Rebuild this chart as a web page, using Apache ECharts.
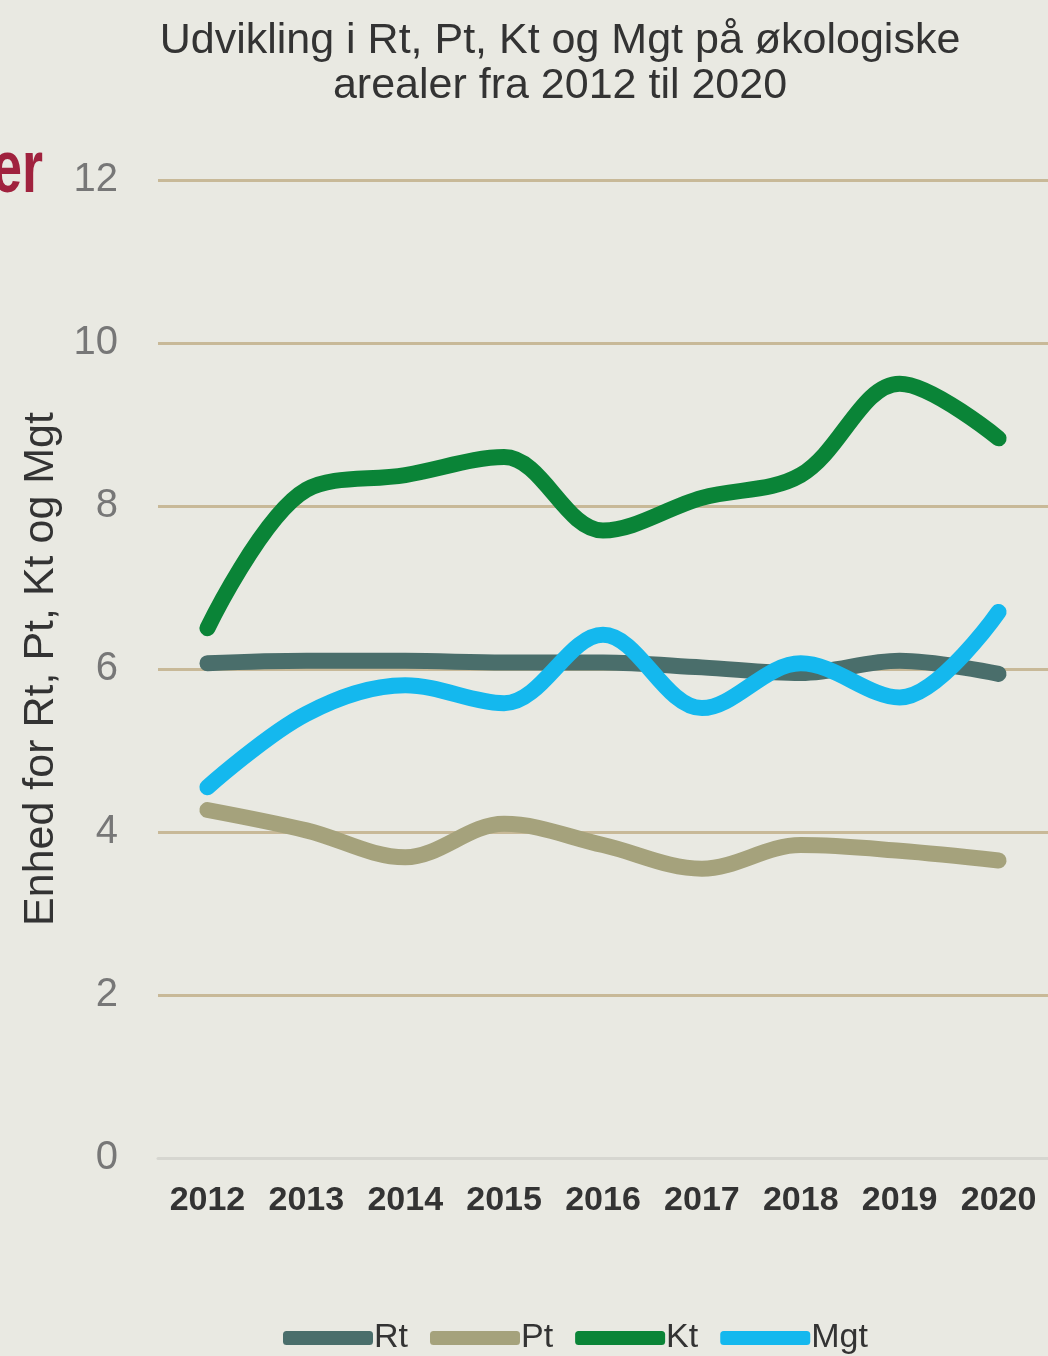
<!DOCTYPE html>
<html>
<head>
<meta charset="utf-8">
<script src="https://cdn.jsdelivr.net/npm/echarts@6/dist/echarts.min.js"></script>
<style>
html,body{margin:0;padding:0;background:#e9e9e2;}
#c{width:1048px;height:1356px;}
</style>
</head>
<body>
<div id="c"></div>
<script>
const categories = ['2012','2013','2014','2015','2016','2017','2018','2019','2020'];
const rt  = [6.07, 6.10, 6.10, 6.08, 6.08, 6.02, 5.95, 6.10, 5.94];
const pt  = [4.27, 4.02, 3.69, 4.10, 3.84, 3.55, 3.84, 3.77, 3.65];
const kt  = [6.50, 8.20, 8.38, 8.60, 7.70, 8.10, 8.38, 9.50, 8.83];
const mgt = [4.55, 5.45, 5.80, 5.58, 6.42, 5.52, 6.07, 5.65, 6.70];
const yTicks = [0, 2, 4, 6, 8, 10, 12];

const font = '"Liberation Sans", Arial, sans-serif';
const chart = echarts.init(document.getElementById('c'));
function line(name, data, color){
  return {name, type:'line', data, smooth:0.35, symbol:'none',
    lineStyle:{width:16, color, cap:'round', join:'round'}, itemStyle:{color}};
}
chart.setOption({
  backgroundColor:'#e9e9e2',
  title:{text:'Udvikling i Rt, Pt, Kt og Mgt på økologiske\narealer fra 2012 til 2020',
    left:555, textAlign:'center', top:14,
    textStyle:{fontFamily:font, fontSize:43, fontWeight:'normal', color:'#333', lineHeight:45}},
  graphic:[{type:'text', x:43, y:134, scaleX:0.72,
    style:{x:0, y:0, text:'er', textAlign:'right',
      font:'bold 75px "Liberation Sans", Arial, sans-serif', fill:'#a0223e'}}],
  legend:{bottom:-4, left:278, icon:'roundRect', itemWidth:90, itemHeight:14, itemGap:22,
    textStyle:{fontFamily:font, fontSize:34, color:'#333', padding:[0,0,0,-4]},
    data:['Rt','Pt','Kt','Mgt']},
  grid:{left:158, right:0, top:180, bottom:198, containLabel:false},
  xAxis:{type:'category', data:categories, boundaryGap:true,
    axisLine:{show:true, lineStyle:{color:'#d6d6d0', width:3}},
    axisTick:{show:false},
    axisLabel:{interval:0, fontFamily:font, fontSize:34, fontWeight:'bold', color:'#333', margin:26}},
  yAxis:{type:'value', min:0, max:12, interval:2,
    name:'Enhed for Rt, Pt, Kt og Mgt', nameLocation:'middle', nameGap:91, nameRotate:90,
    nameTextStyle:{fontFamily:font, fontSize:43, color:'#333', padding:[0,0,-24,0]},
    axisLine:{show:false}, axisTick:{show:false},
    axisLabel:{fontFamily:font, fontSize:40, color:'#777', margin:40,
      formatter:v=>yTicks.includes(v)?String(v):''},
    splitLine:{lineStyle:{color:'#c8b998', width:3}}},
  series:[line('Rt',rt,'#4a6e6b'), line('Pt',pt,'#a5a27c'), line('Kt',kt,'#0a8437'), line('Mgt',mgt,'#14b8ee')]
});
</script>
</body>
</html>
